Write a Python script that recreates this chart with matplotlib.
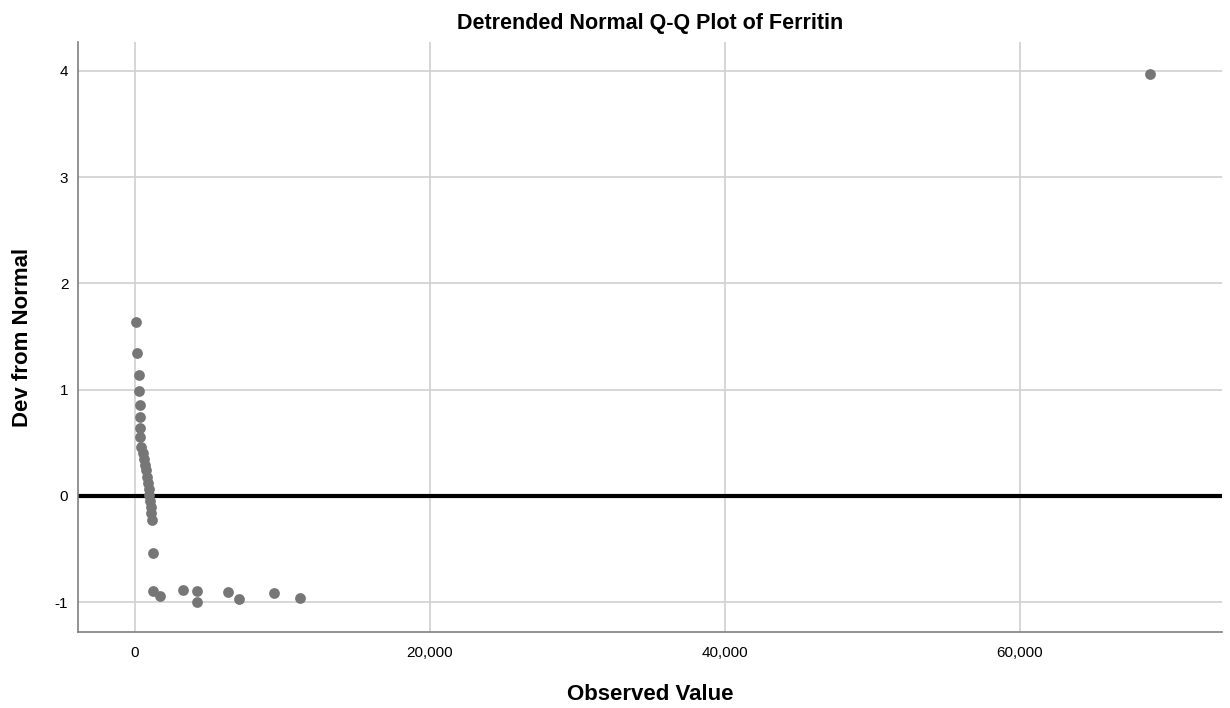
import matplotlib
matplotlib.use("Agg")
import matplotlib.pyplot as plt
from matplotlib.ticker import FuncFormatter

plt.rcParams['font.family'] = ['Liberation Sans', 'DejaVu Sans']
plt.rcParams['axes.unicode_minus'] = False

# Observed ferritin values and their deviation from normal
observed = [68, 156, 292, 292, 319, 339, 339, 360, 386, 563, 644, 678, 746, 793,
            861, 929, 970, 1017, 1064, 1105, 1132, 1200, 1241, 1695, 3234, 4183,
            4183, 6325, 7071, 9424, 11186, 68814]
deviation = [1.64, 1.34, 1.14, 0.99, 0.86, 0.74, 0.64, 0.55, 0.46, 0.40, 0.35,
             0.29, 0.24, 0.18, 0.12, 0.07, 0.01, -0.05, -0.10, -0.16, -0.23,
             -0.54, -0.89, -0.94, -0.88, -0.89, -1.00, -0.90, -0.97, -0.91,
             -0.96, 3.97]

xticks = [0, 20000, 40000, 60000]
yticks = [-1, 0, 1, 2, 3, 4]

fig = plt.figure(figsize=(12.3, 7.08), dpi=100)
ax = fig.add_axes([0.0634, 0.1073, 0.9301, 0.8334])

ax.grid(True, color="#d0d0d0", linewidth=1.2)
ax.set_axisbelow(True)
ax.axhline(0, color="black", linewidth=3, zorder=2)
ax.scatter(observed, deviation, s=60, color="#767676", zorder=3, linewidths=0)

ax.set_xlim(-3860, 73700)
ax.set_ylim(-1.28, 4.27)
ax.set_xticks(xticks)
ax.set_yticks(yticks)
ax.xaxis.set_major_formatter(FuncFormatter(lambda v, p: f"{int(v):,}"))
ax.tick_params(length=0, labelsize=11)
ax.tick_params(axis="x", pad=10)
ax.tick_params(axis="y", pad=7)

for s in ["top", "right"]:
    ax.spines[s].set_visible(False)
for s in ["left", "bottom"]:
    ax.spines[s].set_color("#808080")
    ax.spines[s].set_linewidth(1.2)

ax.set_title("Detrended Normal Q-Q Plot of Ferritin", fontsize=15.5, fontweight="bold", pad=9)
ax.set_xlabel("Observed Value", fontsize=16, fontweight="bold", labelpad=17)
ax.set_ylabel("Dev from Normal", fontsize=16, fontweight="bold", labelpad=16)

fig.savefig("out.png", dpi=100)
